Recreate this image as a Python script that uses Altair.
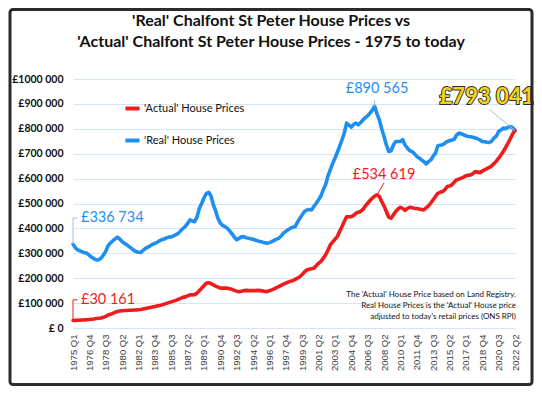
import altair as alt
import pandas as pd

# Quarter categories 1975 Q1 .. 2022 Q2
years = list(range(1975, 2023))
quarters = [f"{y} Q{q}" for y in years for q in range(1, 5)][:190]

tick_labels = ["1975 Q1", "1976 Q4", "1978 Q3", "1980 Q2", "1982 Q1", "1983 Q4", "1985 Q3",
               "1987 Q2", "1989 Q1", "1990 Q4", "1992 Q3", "1994 Q2", "1996 Q1", "1997 Q4",
               "1999 Q3", "2001 Q2", "2003 Q1", "2004 Q4", "2006 Q3", "2008 Q2", "2010 Q1",
               "2011 Q4", "2013 Q3", "2015 Q2", "2017 Q1", "2018 Q4", "2020 Q3", "2022 Q2"]

# 'Real' house prices (GBP thousands), quarterly
real_k = [
    336.734, 322, 314, 310,  306, 302, 300, 292,  284, 278, 273, 274,  280, 293, 308, 330,
    342, 350, 358, 365,  357, 347, 340, 334,  327, 320, 312, 307,  304, 303, 312, 320,
    325, 330, 336, 340,  344, 350, 355, 357,  362, 365, 366, 370,  375, 380, 390, 400,
    407, 420, 434, 430,  427, 445, 480, 500,  522, 540, 545, 530,  495, 470, 440, 421,
    412, 407, 400, 390,  378, 365, 354, 360,  366, 367, 363, 360,  358, 357, 352, 350,
    347, 345, 342, 340,  343, 347, 352, 357,  360, 370, 381, 388,  395, 401, 405, 407,
    425, 441, 455, 468,  474, 476, 474, 488,  501, 515, 530, 555,  575, 610, 635, 660,
    682, 705, 729, 755,  783, 823, 815, 807,  818, 823, 816, 825,  836, 845, 852, 863,
    875, 890.565, 860, 836,  800, 769, 735, 709,  712, 735, 749, 749,  749, 756, 735, 722,
    712, 709, 700, 689,  683, 675, 668, 659,  668, 675, 690, 702,  732, 734, 736, 742,
    749, 752, 755, 758,  775, 783, 780, 776,  772, 769, 768, 766,  763, 760, 755, 749,
    748, 746, 745, 750,  763, 770, 789, 795,  803, 800, 806, 809,  805, 793.041,
]

# 'Actual' house prices (GBP thousands), quarterly
actual_k = [
    30.161, 30.5, 31, 31.5,  32, 32.5, 33, 34,  35, 36, 38, 39,  40, 43, 47, 52,
    55, 59, 63, 66,  68, 69, 70, 70,  71, 71, 72, 72,  73, 74, 76, 78,
    80, 82, 84, 86,  88, 90, 93, 96,  99, 102, 105, 108,  111, 115, 119, 123,
    125, 129, 133, 133,  134, 140, 150, 160,  170, 180, 182, 178,  173, 168, 164, 160,
    160, 160, 160, 158,  155, 151, 148, 146,  148, 150, 151, 150,  150, 150, 150, 151,
    150, 149, 147, 146,  150, 153, 157, 162,  166, 171, 176, 180,  184, 188, 190, 195,
    200, 206, 215, 225,  233, 236, 238, 240,  250, 260, 268, 280,  293, 312, 334, 345,
    356, 367, 387, 407,  428, 447, 447, 447,  452, 461, 465, 468,  476, 490, 501, 512,
    522, 530, 534.619, 528,  508, 490, 468, 445,  441, 455, 468, 478,  485, 480, 472, 480,
    485, 483, 481, 480,  478, 476, 474, 482,  490, 502, 515, 528,  541, 545, 548, 556,
    568, 570, 575, 585,  595, 598, 602, 606,  611, 613, 615, 620,  628, 626, 624, 630,
    635, 640, 645, 651,  660, 670, 682, 695,  709, 725, 742, 760,  780, 793.041,
]

series_names = ["'Actual' House Prices", "'Real' House Prices"]
series_colors = ["#EE1C1C", "#1F8EF1"]

y_ticks = [0, 100000, 200000, 300000, 400000, 500000, 600000, 700000, 800000, 900000, 1000000]

# annotation table (anchor point, label position, text)
ann_q = ["1975 Q1", "1975 Q1", "2007 Q2", "2007 Q3"]
ann_v = [336734, 30161, 890565, 534619]
lab_q = ["1975 Q1", "1975 Q1", "2007 Q3", "2008 Q2"]
lab_v = [442000, 113000, 961000, 615000]
ann_text = ["£336 734", "£30 161", "£890 565", "£534 619"]
ann_color = ["#1F8EF1", "#EE1C1C", "#1F8EF1", "#EE1C1C"]

final_q, final_v = "2022 Q2", 793041
final_lab_q, final_lab_v = "2019 Q2", 929000
final_leader_q, final_leader_v = "2019 Q3", 878000
final_text = "£793 041"

FONT = "Lato"

df = pd.DataFrame({
    "quarter": quarters * 2,
    "series": [series_names[1]] * 190 + [series_names[0]] * 190,
    "value": [v * 1000 for v in real_k] + [v * 1000 for v in actual_k],
})

xscale = alt.Scale(type="point", domain=quarters, padding=0)
yscale = alt.Scale(domain=[0, 1000000], nice=False)

xaxis = alt.Axis(values=tick_labels, labelAngle=-90, labelFont="Liberation Sans",
                 labelFontSize=9.5, labelColor="#404040", ticks=False, domain=False,
                 grid=False, labelPadding=6, title=None, labelOverlap=False)
yaxis = alt.Axis(values=y_ticks, grid=True, gridColor="#D5E5F6", gridWidth=1,
                 domain=False, ticks=False, labelFont=FONT, labelFontWeight="bold",
                 labelFontSize=10.5, labelColor="#111111", labelPadding=10, title=None,
                 labelOverlap=False, labelFlush=False, labelBound=False,
                 labelExpr="datum.value == 0 ? '£ 0' : '£' + format(datum.value / 1000, 'd') + ' 000'")


def X(field):
    return alt.X(field, type="ordinal", scale=xscale, axis=xaxis, title=None)


def Y(field):
    return alt.Y(field, type="quantitative", scale=yscale, axis=yaxis, title=None)


lines = alt.Chart(df).mark_line(strokeWidth=3.6, strokeJoin="round", strokeCap="round").encode(
    x=X("quarter"),
    y=Y("value"),
    color=alt.Color("series:N", scale=alt.Scale(domain=series_names, range=series_colors),
                    legend=alt.Legend(orient="none", legendX=50, legendY=20, title=None,
                                      symbolType="stroke", symbolStrokeWidth=4, symbolSize=200,
                                      labelFont=FONT, labelFontSize=11, labelColor="#111111",
                                      rowPadding=14, labelOffset=2)),
    detail="series:N",
)

ann_df = pd.DataFrame({
    "q": ann_q, "v": ann_v, "lq": lab_q, "lv": lab_v, "text": ann_text, "color": ann_color,
})

# leaders: vertical + short horizontal for the start labels, diagonal for peaks
leader_df = pd.DataFrame({
    "q": ["1975 Q1", "1975 Q1", "1975 Q1", "1975 Q1", "2007 Q2", "2007 Q3", final_q],
    "v": [336734, 442000, 30161, 113000, 890565, 534619, final_v],
    "q2": ["1975 Q1", "1975 Q3", "1975 Q1", "1975 Q3", "2007 Q2", "2008 Q2", final_leader_q],
    "v2": [442000, 442000, 113000, 113000, 915000, 583000, final_leader_v],
    "c": ["#9CC3EA", "#9CC3EA", "#EE1C1C", "#EE1C1C", "#9CC3EA", "#EE1C1C", "#9CC3EA"],
})
leaders = alt.Chart(leader_df).mark_rule(strokeWidth=1).encode(
    x=X("q"), y=Y("v"), x2="q2", y2="v2", color=alt.Color("c:N", scale=None),
)

start_labels = alt.Chart(ann_df.iloc[:2]).mark_text(
    align="left", baseline="middle", dx=8, font=FONT, fontSize=14.5).encode(
    x=X("lq"), y=Y("lv"), text="text:N", color=alt.Color("color:N", scale=None),
)
peak_labels = alt.Chart(ann_df.iloc[2:]).mark_text(
    align="center", baseline="middle", font=FONT, fontSize=14.5).encode(
    x=X("lq"), y=Y("lv"), text="text:N", color=alt.Color("color:N", scale=None),
)

final_df = pd.DataFrame({"q": [final_lab_q], "v": [final_lab_v], "text": [final_text]})
final_outline = alt.Chart(final_df).mark_text(
    align="center", baseline="middle", font=FONT, fontSize=22, fontWeight="bold",
    stroke="#2a2a2a", strokeWidth=1.8, fill="#2a2a2a").encode(
    x=X("q"), y=Y("v"), text="text:N")
final_fill = alt.Chart(final_df).mark_text(
    align="center", baseline="middle", font=FONT, fontSize=22, fontWeight="bold",
    fill="#F4D21E").encode(
    x=X("q"), y=Y("v"), text="text:N")

one = pd.DataFrame({"a": [0]})

title1 = alt.Chart(one).mark_text(
    align="center", baseline="middle", font=FONT, fontSize=16, fontWeight="bold",
    color="#111111").encode(x=alt.value(198), y=alt.value(-58),
                            text=alt.value("'Real' Chalfont St Peter House Prices vs"))
title2 = alt.Chart(one).mark_text(
    align="center", baseline="middle", font=FONT, fontSize=16, fontWeight="bold",
    color="#111111").encode(x=alt.value(198), y=alt.value(-37),
                            text=alt.value("'Actual' Chalfont St Peter House Prices - 1975 to today"))

notes = ["The 'Actual' House Price based on Land Registry.",
         "Real House Prices is the 'Actual' House price",
         "adjusted  to today's retail prices (ONS RPI)"]
note_layers = []
for i, line in enumerate(notes):
    note_layers.append(alt.Chart(one).mark_text(
        align="right", baseline="middle", font=FONT, fontSize=8, color="#111111").encode(
        x=alt.value(443), y=alt.value(216 + 11 * i), text=alt.value(line)))

border = alt.Chart(one).mark_rect(
    fillOpacity=0, stroke="#2b2b2b", strokeWidth=3, cornerRadius=3).encode(
    x=alt.value(-63), x2=alt.value(459), y=alt.value(-69.5), y2=alt.value(305.5))

chart = alt.layer(
    lines, leaders, start_labels, peak_labels, final_outline, final_fill,
    title1, title2, *note_layers, border,
).properties(
    width=442, height=249,
    padding={"left": 65, "top": 71, "right": 19, "bottom": 58},
    autosize=alt.AutoSizeParams(type="none"),
    background="white",
).configure_view(stroke=None).configure_axis(labelOverlap=False)

chart.save("out.html", embed_options={"renderer": "svg", "actions": False})
